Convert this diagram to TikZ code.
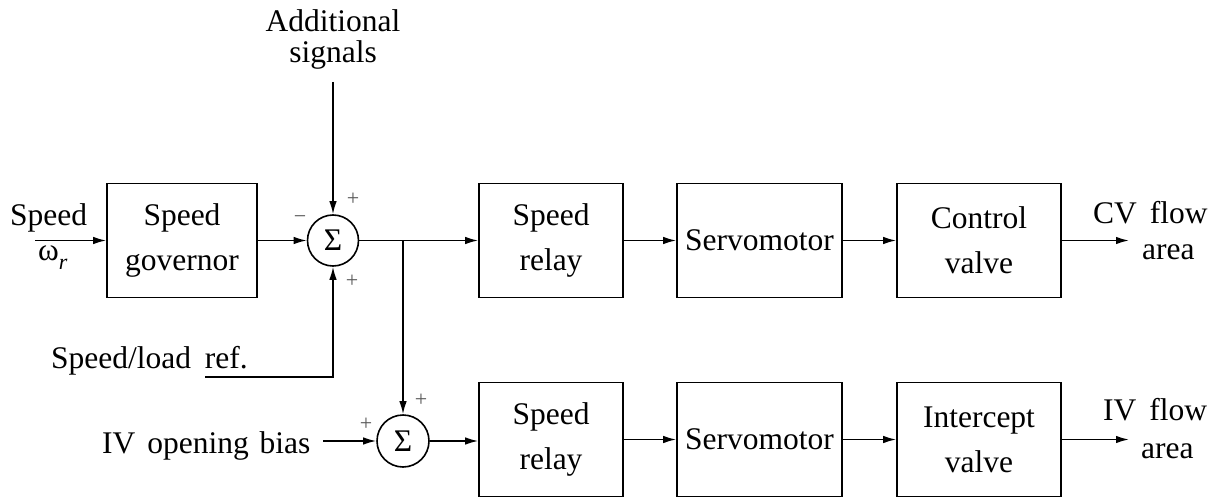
\documentclass[tikz,border=0pt]{standalone}
\usepackage{fontspec}
\setmainfont{Liberation Serif}
\usetikzlibrary{arrows.meta}
\begin{document}
\begin{tikzpicture}[x=1pt,y=-1pt,
  font=\fontsize{31.5}{45}\selectfont,
  blockbox/.style={draw, line width=1.6pt, minimum height=114pt, align=center, inner sep=0pt},
  sumnode/.style={draw, circle, line width=1.6pt, minimum size=51pt, inner sep=0pt},
  sig/.style={-{Latex[length=13pt,width=7.5pt]}, line width=1.6pt},
  sign/.style={font=\fontsize{22}{22}\selectfont, text=black!65, inner sep=0pt},
  lbl/.style={inner sep=0pt}
]
\useasboundingbox (0,0) rectangle (1217,497);

% blocks, upper (control valve) path
\node[blockbox, minimum width=150pt] (gov)   at (182,240.5) {Speed\\governor};
\node[sumnode] (sum1) at (333,240.5) {Σ};
\node[blockbox, minimum width=144pt] (relay1) at (551,240.5) {Speed\\relay};
\node[blockbox, minimum width=165pt] (servo1) at (759.5,240.5) {Servomotor};
\node[blockbox, minimum width=164pt] (cv)     at (979,240.5) {Control\\valve};

% blocks, lower (intercept valve) path
\node[sumnode, minimum size=52pt] (sum2) at (403,441) {Σ};
\node[blockbox, minimum width=144pt] (relay2) at (551,439.5) {Speed\\relay};
\node[blockbox, minimum width=165pt] (servo2) at (759.5,439.5) {Servomotor};
\node[blockbox, minimum width=164pt] (iv)     at (979,439.5) {Intercept\\valve};

% free ends of the input and output connectors
\coordinate (spdin) at (35,240.5);
\coordinate (addin) at (333,82);
\coordinate (refin) at (205,377);
\coordinate (biasin) at (323,441);
\coordinate (cvout) at (1129,240.5);
\coordinate (ivout) at (1129,439.5);
\coordinate (junc) at (sum2.north |- sum1.east);

% texts
\node[lbl, anchor=base west] (tspeed) at (10,225) {Speed};
\node[lbl, anchor=base west] (tomega) at (38,260) {ω\raisebox{-9pt}{\fontsize{22}{22}\selectfont\itshape r}};
\node[lbl, anchor=base] (tadd1) at (333,32) {Additional};
\node[lbl, anchor=base] (tadd2) at (333,63) {signals};
\node[lbl, anchor=base east] (tref) at (248,368) {Speed/load\hspace{6pt} ref.};
\node[lbl, anchor=base west] (tbias) at (102,453) {IV\hspace{4pt} opening\hspace{3pt} bias};
\node[lbl, anchor=base west] (tcv1) at (1093,223) {CV\hspace{5pt} flow};
\node[lbl, anchor=base west] (tcv2) at (1142,259) {area};
\node[lbl, anchor=base west] (tiv1) at (1103,420) {IV\hspace{5pt} flow};
\node[lbl, anchor=base west] (tiv2) at (1141,458) {area};

% signs at the summing junctions
\node[sign] (m1) at (300,220) {−};
\node[sign] (p1) at (353,199) {+};
\node[sign] (p2) at (352,281) {+};
\node[sign] (p3) at (366,424) {+};
\node[sign] (p4) at (421,400) {+};

% connectors
\draw[sig] (spdin) -- (gov.west);
\draw[sig] (gov.east) -- (sum1.west);
\draw[sig] (addin) -- (sum1.north);
\draw[sig] (refin) -| (sum1.south);
\draw[sig] (sum1.east) -- (relay1.west);
\draw[sig] (junc) -- (sum2.north);
\draw[sig] (biasin) -- (sum2.west);
\draw[sig] (sum2.east) -- (sum2.east -| relay2.west);
\draw[sig] (relay1.east) -- (servo1.west);
\draw[sig] (servo1.east) -- (cv.west);
\draw[sig] (cv.east) -- (cvout);
\draw[sig] (relay2.east) -- (servo2.west);
\draw[sig] (servo2.east) -- (iv.west);
\draw[sig] (iv.east) -- (ivout);
\end{tikzpicture}
\end{document}
